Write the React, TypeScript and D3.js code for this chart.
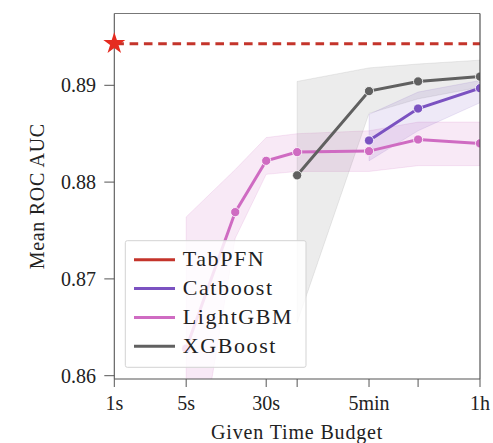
import React from "react";
import * as d3 from "d3";

const tickTimes = [1, 5, 30, 60, 300, 900, 3600];
const tickLabels = ["1s", "5s", "30s", "", "5min", "", "1h"];
const yTicks = [0.86, 0.87, 0.88, 0.89];

const tabpfnValue = 0.8943;

const lgbTimes = [5, 15, 30, 60, 300, 900, 3600];
const lgbMean = [0.8628, 0.8769, 0.8822, 0.8831, 0.8832, 0.8844, 0.884];
const lgbLow = [0.8437, 0.8742, 0.8808, 0.8811, 0.8811, 0.8817, 0.8817];
const lgbHigh = [0.8764, 0.8813, 0.8846, 0.885, 0.8853, 0.8862, 0.8862];

const xgbTimes = [60, 300, 900, 3600];
const xgbMean = [0.8807, 0.8894, 0.8904, 0.8909];
const xgbLow = [0.8655, 0.8871, 0.8886, 0.8898];
const xgbHigh = [0.8904, 0.8918, 0.8922, 0.8926];

const catTimes = [300, 900, 3600];
const catMean = [0.8843, 0.8876, 0.8897];
const catLow = [0.8822, 0.8853, 0.8882];
const catHigh = [0.887, 0.8893, 0.8905];

const legendNames = ["TabPFN", "Catboost", "LightGBM", "XGBoost"];

const C_TAB = "#c4342b";
const C_CAT = "#7b52c1";
const C_LGB = "#cf6bc2";
const C_XGB = "#606060";

const FONT = "'Liberation Serif', 'Times New Roman', serif";

export default function App() {
  const left = 114.3, right = 480, top = 13.5, bottom = 379;
  const x = d3.scaleLog().domain([1, 3600]).range([left, right]);
  const y = d3.scaleLinear().domain([0.86, 0.89]).range([375.7, 85.3]);

  type P = { t: number; m: number; lo: number; hi: number };
  const mk = (ts: number[], m: number[], lo: number[], hi: number[]): P[] =>
    ts.map((t, i) => ({ t, m: m[i], lo: lo[i], hi: hi[i] }));
  const lgb = mk(lgbTimes, lgbMean, lgbLow, lgbHigh);
  const xgb = mk(xgbTimes, xgbMean, xgbLow, xgbHigh);
  const cat = mk(catTimes, catMean, catLow, catHigh);

  const area = d3
    .area<P>()
    .x((d) => x(d.t))
    .y0((d) => y(d.lo))
    .y1((d) => y(d.hi));
  const line = d3
    .line<P>()
    .x((d) => x(d.t))
    .y((d) => y(d.m));

  const series = [
    { data: cat, color: C_CAT, op: 0.13 },
    { data: lgb, color: C_LGB, op: 0.15 },
    { data: xgb, color: C_XGB, op: 0.12 },
  ];
  const bandOrder = [series[1], series[2], series[0]];

  const star = d3.symbol().type(d3.symbolStar).size(150)();
  const legendColors = [C_TAB, C_CAT, C_LGB, C_XGB];

  return (
    <svg
      width={493}
      height={443}
      style={{ position: "absolute", left: 0, top: 0, background: "#fff" }}
      fontFamily={FONT}
    >
      <defs>
        <clipPath id="plotclip">
          <rect x={left} y={top} width={right - left} height={bottom - top} />
        </clipPath>
      </defs>
      <rect x={0} y={0} width={493} height={443} fill="#fff" />
      <g clipPath="url(#plotclip)">
        {bandOrder.map((s, i) => (
          <path
            key={"b" + i}
            d={area(s.data) || ""}
            fill={s.color}
            fillOpacity={s.op}
            stroke={s.color}
            strokeOpacity={s.op}
            strokeWidth={1}
          />
        ))}
        <line
          x1={left}
          x2={right}
          y1={y(tabpfnValue)}
          y2={y(tabpfnValue)}
          stroke={C_TAB}
          strokeWidth={3}
          strokeDasharray="8.6,5.7"
          strokeDashoffset={-1}
        />
        {series.map((s, i) => (
          <g key={"l" + i}>
            <path d={line(s.data) || ""} fill="none" stroke={s.color} strokeWidth={3} />
            {s.data.map((d, j) => (
              <circle
                key={j}
                cx={x(d.t)}
                cy={y(d.m)}
                r={4.6}
                fill={s.color}
                stroke="#fff"
                strokeWidth={0.8}
              />
            ))}
          </g>
        ))}
      </g>
      {/* frame */}
      <line x1={left} x2={right} y1={top} y2={top} stroke="#777" strokeWidth={1.1} />
      <line x1={right} x2={right} y1={top} y2={bottom} stroke="#444" strokeWidth={1.1} />
      <line x1={left} x2={left} y1={top} y2={bottom} stroke="#555" strokeWidth={1.1} />
      <line x1={left} x2={right} y1={bottom} y2={bottom} stroke="#555" strokeWidth={1.1} />
      {/* y ticks */}
      {yTicks.map((v) => (
        <g key={v}>
          <line x1={104.3} x2={left} y1={y(v)} y2={y(v)} stroke="#555" strokeWidth={1} />
          <text
            x={96}
            y={y(v)}
            dy="0.34em"
            textAnchor="end"
            fontSize={20}
            fill="#222"
          >
            {v.toFixed(2)}
          </text>
        </g>
      ))}
      {/* x ticks */}
      {tickTimes.map((t, i) => (
        <g key={t}>
          <line x1={x(t)} x2={x(t)} y1={bottom} y2={bottom + 8} stroke="#555" strokeWidth={1} />
          <text x={x(t)} y={410} textAnchor="middle" fontSize={20} fill="#222">
            {tickLabels[i]}
          </text>
        </g>
      ))}
      <text
        x={(left + right) / 2}
        y={438.5}
        textAnchor="middle"
        fontSize={20}
        letterSpacing={0.85}
        fill="#222"
      >
        Given Time Budget
      </text>
      <text
        transform={`translate(44.3, ${(top + bottom) / 2}) rotate(-90)`}
        textAnchor="middle"
        fontSize={20}
        letterSpacing={0.7}
        fill="#222"
      >
        Mean ROC AUC
      </text>
      {/* TabPFN star */}
      <path
        d={star || ""}
        transform={`translate(${x(1)}, ${y(tabpfnValue)})`}
        fill="#e52b20"
      />
      {/* legend */}
      <rect
        x={125.3}
        y={240.7}
        width={180.7}
        height={126.6}
        fill="#fff"
        fillOpacity={0.82}
        stroke="#d3d3d3"
        strokeWidth={1}
        rx={2}
      />
      {legendNames.map((n, i) => {
        const ly = 259.8 + i * 28.8;
        return (
          <g key={n}>
            <line x1={134} x2={175} y1={ly} y2={ly} stroke={legendColors[i]} strokeWidth={3} />
            <text x={182.7} y={ly + 6.3} fontSize={22} letterSpacing={1.6} fill="#222">
              {n}
            </text>
          </g>
        );
      })}
    </svg>
  );
}
